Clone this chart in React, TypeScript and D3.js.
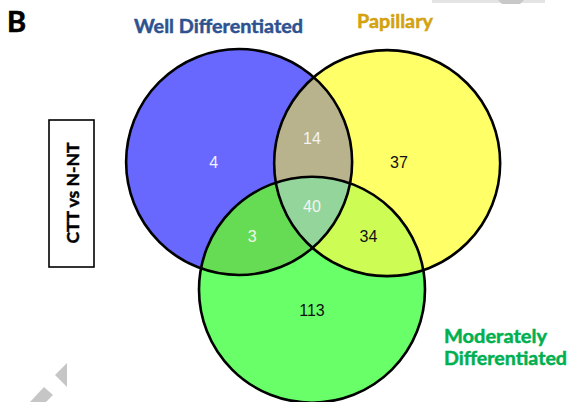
import React from "react";
import * as d3 from "d3";

// Sets of the three-way Venn diagram
const setNames = ["Well Differentiated", "Papillary", "Moderately Differentiated"];
const setColors = ["#6868ff", "#ffff68", "#68ff68"];
const setLabelColors = ["#2e5290", "#d4a20c", "#00b050"];

// Region counts, keyed by membership (1 = Well, 2 = Papillary, 3 = Moderately)
const regionKeys = ["1", "2", "3", "12", "13", "23", "123"];
const regionCounts = [4, 37, 113, 14, 3, 34, 40];
const regionColors = [null, null, null, "#b8b38c", "#66dc55", "#cdfd55", "#93d59b"];
const regionTextColors = ["#f0f0ff", "#111111", "#111111", "#f4f4f4", "#eef8ea", "#111111", "#f4f4f4"];

// Layout in radius units
const circleCenters: [number, number][] = [[-0.645, 0], [0.665, 0.01], [0.0, 1.13]];
const regionAnchors: [number, number][] = [
  [-0.87, 0], [0.77, 0.0], [0, 1.31], [0, -0.21], [-0.53, 0.66], [0.5, 0.66], [0, 0.39],
];

const W = 569;
const H = 402;
const R = 113;
const x = d3.scaleLinear().domain([0, 1]).range([312, 312 + R]);
const y = d3.scaleLinear().domain([0, 1]).range([162, 162 + R]);

export default function App() {
  const circles = circleCenters.map(([cx, cy], i) => ({ cx: x(cx), cy: y(cy), r: R, i }));

  const clipFor = (members: number[], body: React.ReactNode, key: string) => {
    // nest one clip per extra member
    let node: React.ReactNode = body;
    members.slice(1).forEach((m) => {
      node = <g clipPath={`url(#clip${m})`}>{node}</g>;
    });
    return <g key={key}>{node}</g>;
  };

  return (
    <svg width={W} height={H} style={{ position: "absolute", left: 0, top: 0, background: "#fff" }}>
      <defs>
        {circles.map((c) => (
          <clipPath id={`clip${c.i}`} key={c.i}>
            <circle cx={c.cx} cy={c.cy} r={c.r} />
          </clipPath>
        ))}
      </defs>

      {/* watermark fragments */}
      <polygon points="55,375 67,363 67,387" fill="#c6c6c6" />
      <polygon points="30,402 44,387 53,395 46,402" fill="#c6c6c6" />
      <polygon points="432,0 545,0 545,3 432,3" fill="#e4e4e4" />
      <polygon points="498,0 524,0 520,4 502,4" fill="#c8c8c8" />

      {/* base set fills */}
      {circles.map((c) => (
        <circle key={`f${c.i}`} cx={c.cx} cy={c.cy} r={c.r} fill={setColors[c.i]} />
      ))}

      {/* overlap fills */}
      {regionKeys.map((k, ri) => {
        if (k.length < 2) return null;
        const members = k.split("").map((d) => +d - 1);
        const first = circles[members[0]];
        return clipFor(
          members,
          <circle cx={first.cx} cy={first.cy} r={first.r} fill={regionColors[ri] as string} />,
          `o${k}`
        );
      })}

      {/* outlines */}
      {circles.map((c) => (
        <circle key={`s${c.i}`} cx={c.cx} cy={c.cy} r={c.r} fill="none" stroke="#000" strokeWidth={2.6} />
      ))}

      {/* region counts */}
      {regionKeys.map((k, ri) => (
        <text
          key={`t${k}`}
          x={x(regionAnchors[ri][0])}
          y={y(regionAnchors[ri][1])}
          textAnchor="middle"
          dominantBaseline="central"
          fontFamily="'Liberation Sans', Arial, sans-serif"
          fontSize={16}
          fill={regionTextColors[ri]}
        >
          {regionCounts[ri]}
        </text>
      ))}

      {/* set labels */}
      <g fontFamily="Lato, 'Open Sans', sans-serif" fontWeight="bold" fontSize={18} strokeWidth={0.45}>
        <text x={134} y={33} fill={setLabelColors[0]} stroke={setLabelColors[0]} textLength={169} lengthAdjust="spacingAndGlyphs">
          {setNames[0]}
        </text>
        <text x={357} y={28} fill={setLabelColors[1]} stroke={setLabelColors[1]} textLength={76} lengthAdjust="spacingAndGlyphs">
          {setNames[1]}
        </text>
        <text x={444} y={343} fill={setLabelColors[2]} stroke={setLabelColors[2]} textLength={103} lengthAdjust="spacingAndGlyphs">
          {setNames[2].split(" ")[0]}
        </text>
        <text x={444} y={365} fill={setLabelColors[2]} stroke={setLabelColors[2]} textLength={123} lengthAdjust="spacingAndGlyphs">
          {setNames[2].split(" ")[1]}
        </text>
      </g>

      {/* panel letter */}
      <text x={7} y={32} fontFamily="Lato, 'Open Sans', sans-serif" fontWeight="bold" fontSize={29} fill="#000" stroke="#000" strokeWidth={0.6}>
        B
      </text>

      {/* comparison box */}
      <rect x={49} y={120} width={45} height={147} fill="#fff" stroke="#000" strokeWidth={1.6} />
      <text
        transform="translate(79,193) rotate(-90)"
        textAnchor="middle"
        fontFamily="Lato, 'Open Sans', sans-serif"
        fontWeight="bold"
        fontSize={17}
        fill="#000"
        stroke="#000"
        strokeWidth={0.45}
        textLength={101}
        lengthAdjust="spacingAndGlyphs"
      >
        CTT vs N-NT
      </text>
    </svg>
  );
}
